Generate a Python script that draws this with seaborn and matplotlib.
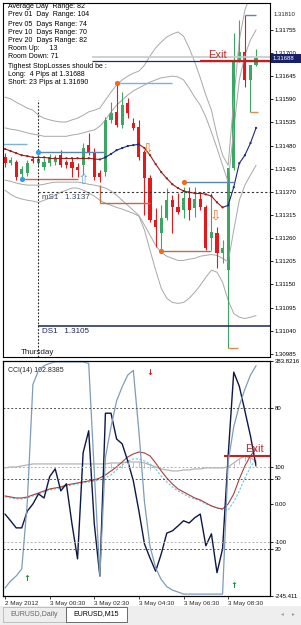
import numpy as np
import pandas as pd
import matplotlib
matplotlib.use("Agg")
import matplotlib.pyplot as plt
import seaborn as sns
from matplotlib.patches import Rectangle

sns.set_style("white")
plt.rcParams['font.family'] = ['Liberation Sans', 'DejaVu Sans']

# ---------------- data ----------------
time_ticks = [0, 8, 16, 24, 32, 40]
time_labels = ["2 May 2012", "3 May 00:30", "3 May 02:30", "3 May 04:30", "3 May 06:30", "3 May 08:30"]

opens = [1.31452, 1.31438, 1.31441, 1.31412, 1.31414, 1.31448, 1.31438, 1.31429, 1.31438, 1.31441,
         1.31457, 1.31441, 1.31441, 1.31429, 1.31433, 1.31481, 1.31464, 1.31414, 1.31417, 1.31541,
         1.31560, 1.31529, 1.31581, 1.31533, 1.31524, 1.31464, 1.31402, 1.31303, 1.31272, 1.31307,
         1.31350, 1.31335, 1.31326, 1.31355, 1.31331, 1.31353, 1.31335, 1.31260, 1.31272, 1.31224,
         1.31184, 1.31426, 1.31683, 1.31702, 1.31636, 1.31671]
highs = [1.31462, 1.31452, 1.31445, 1.31431, 1.31445, 1.31452, 1.31457, 1.31450, 1.31460, 1.31457,
         1.31469, 1.31445, 1.31450, 1.31438, 1.31486, 1.31510, 1.31474, 1.31422, 1.31548, 1.31583,
         1.31629, 1.31607, 1.31593, 1.31545, 1.31541, 1.31469, 1.31410, 1.31331, 1.31338, 1.31379,
         1.31362, 1.31367, 1.31381, 1.31381, 1.31381, 1.31369, 1.31338, 1.31367, 1.31286, 1.31255,
         1.31426, 1.31748, 1.31779, 1.31790, 1.31671, 1.31710]
lows = [1.31429, 1.31433, 1.31398, 1.31402, 1.31407, 1.31438, 1.31431, 1.31422, 1.31431, 1.31433,
        1.31429, 1.31426, 1.31405, 1.31405, 1.31410, 1.31457, 1.31398, 1.31393, 1.31407, 1.31533,
        1.31524, 1.31522, 1.31545, 1.31517, 1.31445, 1.31314, 1.31298, 1.31238, 1.31231, 1.31303,
        1.31272, 1.31317, 1.31307, 1.31303, 1.31310, 1.31326, 1.31231, 1.31231, 1.31188, 1.31200,
        1.30998, 1.31422, 1.31679, 1.31619, 1.31560, 1.31669]
closes = [1.31438, 1.31445, 1.31405, 1.31424, 1.31438, 1.31443, 1.31448, 1.31441, 1.31452, 1.31450,
          1.31433, 1.31433, 1.31426, 1.31422, 1.31474, 1.31464, 1.31405, 1.31405, 1.31541, 1.31557,
          1.31529, 1.31576, 1.31557, 1.31522, 1.31452, 1.31402, 1.31303, 1.31286, 1.31307, 1.31350,
          1.31335, 1.31322, 1.31355, 1.31326, 1.31353, 1.31335, 1.31236, 1.31274, 1.31224, 1.31236,
          1.31426, 1.31679, 1.31702, 1.31636, 1.31671, 1.31688]

ma_line = [1.31472, 1.31467, 1.31462, 1.31457, 1.31455, 1.31452, 1.31452, 1.31452, 1.31450, 1.31450,
           1.31450, 1.31450, 1.31450, 1.31450, 1.31450, 1.31450, 1.31448, 1.31447, 1.31452, 1.31460,
           1.31469, 1.31474, 1.31479, 1.31481, 1.31483, 1.31474, 1.31457, 1.31436, 1.31417, 1.31402,
           1.31388, 1.31379, 1.31372, 1.31369, 1.31367, 1.31367, 1.31364, 1.31360, 1.31345, 1.31333,
           1.31338, 1.31381, 1.31438, 1.31457, 1.31486, 1.31522]

band_up_outer = [1.31595, 1.31591, 1.31583, 1.31576, 1.31569, 1.31564, 1.31552, 1.31545, 1.31541, 1.31538,
                 1.31536, 1.31536, 1.31541, 1.31545, 1.31552, 1.31560, 1.31564, 1.31569, 1.31588, 1.31607,
                 1.31624, 1.31636, 1.31645, 1.31652, 1.31657, 1.31671, 1.31693, 1.31712, 1.31726, 1.31738,
                 1.31745, 1.31750, 1.31740, 1.31712, 1.31679, 1.31641, 1.31600, 1.31564, 1.31505, 1.31457,
                 1.31433, 1.31588, 1.31731, 1.31802, 1.31838, 1.31862]
band_up_inner = [1.31522, 1.31519, 1.31517, 1.31514, 1.31510, 1.31507, 1.31505, 1.31502, 1.31502, 1.31502,
                 1.31502, 1.31502, 1.31505, 1.31507, 1.31510, 1.31514, 1.31517, 1.31526, 1.31541, 1.31560,
                 1.31576, 1.31588, 1.31600, 1.31610, 1.31617, 1.31624, 1.31631, 1.31636, 1.31641, 1.31643,
                 1.31645, 1.31643, 1.31636, 1.31617, 1.31595, 1.31576, 1.31548, 1.31512, 1.31474, 1.31433,
                 1.31393, 1.31517, 1.31636, 1.31695, 1.31731, 1.31755]
band_lo_inner = [1.31398, 1.31395, 1.31391, 1.31388, 1.31386, 1.31386, 1.31386, 1.31388, 1.31391, 1.31393,
                 1.31393, 1.31393, 1.31393, 1.31393, 1.31391, 1.31388, 1.31386, 1.31383, 1.31379, 1.31372,
                 1.31362, 1.31350, 1.31338, 1.31326, 1.31314, 1.31291, 1.31267, 1.31243, 1.31226, 1.31217,
                 1.31212, 1.31207, 1.31207, 1.31210, 1.31212, 1.31217, 1.31219, 1.31221, 1.31219, 1.31212,
                 1.31203, 1.31279, 1.31350, 1.31386, 1.31410, 1.31433]
band_lo_outer = [1.31374, 1.31364, 1.31357, 1.31353, 1.31350, 1.31348, 1.31345, 1.31350, 1.31355, 1.31362,
                 1.31369, 1.31374, 1.31379, 1.31379, 1.31374, 1.31367, 1.31360, 1.31350, 1.31343, 1.31338,
                 1.31333, 1.31329, 1.31324, 1.31319, 1.31312, 1.31279, 1.31231, 1.31184, 1.31141, 1.31117,
                 1.31107, 1.31105, 1.31107, 1.31117, 1.31131, 1.31148, 1.31167, 1.31184, 1.31179, 1.31155,
                 1.31112, 1.31081, 1.31072, 1.31069, 1.31072, 1.31076]

cci = [-26, -44, -63, -63, -18, 1, 28, 17, 74, 95, 36, 55, -52, -146, 138, 197, -52, -192, 244, 244,
       175, 162, 116, 63, -18, -106, -144, -179, -133, -77, -71, -58, -44, -50, -36, -26, -111, -79, -183, -119,
       130, 354, 316, 250, 183, 102.8385]
cci_ma_red = [22.5, 19.8, 17.1, 17.1, 19.8, 25.2, 30.5, 35.9, 41.2, 43.9, 46.6, 51.9, 54.6, 57.3, 60.0, 62.7,
              65.3, 70.7, 78.7, 89.4, 100.1, 113.5, 126.9, 134.9, 140.3, 137.6, 129.6, 110.8, 89.4, 70.7,
              54.6, 41.2, 33.2, 25.2, 17.1, 11.8, 3.7, -4.3, -9.6, -12.3, 1.1, 28.0, 68.0, 103.0, 130.0, 148.0]
cci_ma_cyan = [19.8, 17.1, 14.5, 14.5, 17.1, 22.5, 27.8, 33.2, 38.6, 41.2, 43.9, 49.3, 51.9, 54.6, 57.3, 60.0,
               62.7, 65.3, 70.7, 78.7, 92.1, 105.5, 116.2, 121.6, 121.6, 116.2, 108.2, 94.8, 76.0, 60.0,
               46.6, 35.9, 27.8, 19.8, 14.5, 9.1, 1.1, -4.3, -9.6, -15.0, -15.0, 6.4, 35.9, 70.7, 100.1, 121.6]
cci_grey = [97.5, 100.1, 100.1, 102.8, 105.5, 108.2, 108.2, 108.2, 108.2, 108.2, 108.2, 108.2, 108.2, 108.2,
            108.2, 108.2, 108.2, 108.2, 108.2, 110.8, 110.8, 110.8, 113.5, 113.5, 113.5, 110.8, 105.5, 100.1,
            94.8, 92.1, 89.4, 89.4, 92.1, 92.1, 94.8, 94.8, 97.5, 97.5, 97.5, 97.5, 100.1, 110.8, 121.6,
            129.6, 124.2, 116.2]
stoch = [3.4, 6.4, 8.5, 11.5, 40, 90, 96, 98, 99, 99.6, 99.6, 99.6, 99.6, 99.6, 99.6, 99, 53, 8.5, 59, 72,
         83, 89, 94, 96, 70, 40, 21, 12, 7, 4, 2.5, 1.7, 0.8, 0.8, 0.8, 0.8, 0.8, 0.8, 0.8, 0.8,
         57, 72, 81, 88, 94, 98]

info_lines = ["Average Day  Range: 82", "Prev 01  Day  Range: 104", "Prev 05  Days Range: 74",
              "Prev 10  Days Range: 70", "Prev 20  Days Range: 82", "Room Up:     13", "Room Down: 71",
              "Tighest StopLosses should be :", "Long:  4 Pips at 1.31688", "Short: 23 Pips at 1.31690"]

price_ticks = [1.31755, 1.31700, 1.31645, 1.31590, 1.31535, 1.31480, 1.31425, 1.31370, 1.31315,
               1.31260, 1.31205, 1.31150, 1.31095, 1.31040, 1.30985]
cci_ticks = [383.8216, 100, 0, -100, -245.411]
cci_tick_labels = ["383.8216", "100", "0.00", "-100", "-245.411"]
stoch_levels = [80, 50, 20]

pivot_ms1 = 1.3137
pivot_ds1 = 1.3105
bid_price = 1.31688
exit_price = 1.31680
exit_cci = 129.6

# signal dots: (bar, price)
blue_dot_bars = [3, 6]
blue_dot_prices = [1.31400, 1.31464]
orange_dot_bars = [20, 28, 32]
orange_dot_prices = [1.31629, 1.31229, 1.31393]

# ---------------- figure ----------------
W, H = 301, 625
fig = plt.figure(figsize=(W / 100, H / 100), dpi=100)
fig.patch.set_facecolor('white')


def fbox(x0, y0, x1, y1):
    return [x0 / W, 1 - y1 / H, (x1 - x0) / W, (y1 - y0) / H]


def ftext(x, y, s, **kw):
    return fig.text(x / W, 1 - y / H, s, **kw)


# tab strip (behind everything)
fig.patches.append(Rectangle((0, 0), 1, 19 / H, transform=fig.transFigure, facecolor="#eeeeee",
                             edgecolor="none", zorder=-2))
fig.patches.append(Rectangle((3 / W, 1 - 622 / H), 63 / W, 15 / H, transform=fig.transFigure,
                             facecolor="#eeeeee", edgecolor="#aaaaaa", lw=0.5, zorder=-1))
fig.patches.append(Rectangle((66 / W, 1 - 622 / H), 61 / W, 15 / H, transform=fig.transFigure,
                             facecolor="white", edgecolor="#555555", lw=0.6, zorder=-1))

ax1 = fig.add_axes(fbox(3, 3, 270, 357))
ax2 = fig.add_axes(fbox(3, 361, 270, 596))
ax2b = ax2.twinx()

n = len(opens)
bars = np.arange(n)
XL = (-0.36, 47.5)
GREEN = "#3aa862"
RED = "#e3191c"
NAVY = "#1a2a78"
DKRED = "#9c1c1c"
BAND = "#a8a8a8"

# bands (seaborn)
band_df = pd.concat([
    pd.DataFrame({"bar": bars, "price": v, "band": name})
    for name, v in [("uo", band_up_outer), ("ui", band_up_inner), ("li", band_lo_inner), ("lo", band_lo_outer)]
])
sns.lineplot(data=band_df, x="bar", y="price", units="band", estimator=None, color=BAND,
             lw=0.7, ax=ax1, legend=False)

# candles
o = np.array(opens); c = np.array(closes); hi = np.array(highs); lo = np.array(lows)
up = c >= o
cols = np.where(up, GREEN, RED)
ax1.vlines(bars, lo, hi, colors=cols, lw=0.8)
body_lo = np.minimum(o, c)
body_h = np.maximum(np.abs(c - o), 0.00003)
ax1.bar(bars, body_h, bottom=body_lo, width=0.56, color=cols, edgecolor='none')

# MA line colored by direction
ma = np.array(ma_line)
for i in range(n - 1):
    col = NAVY if ma[i + 1] > ma[i] else DKRED
    ax1.plot([i, i + 1], [ma[i], ma[i + 1]], color=col, lw=0.8)
dot_cols = [NAVY if (i > 0 and ma[i] > ma[i - 1]) else DKRED for i in range(n)]
ax1.scatter(bars, ma, s=2.5, c=dot_cols, zorder=4, linewidths=0)

# horizontal levels
ax1.hlines(1.31483, -0.4, 4, color="#7fb2d8", lw=1.0)
ax1.hlines(blue_dot_prices[1], 6, 18, color="#5a88b0", lw=1.0)
ax1.hlines(blue_dot_prices[0], 3, 13, color="#b8704a", lw=1.0)
ax1.vlines(17, 1.31343, 1.31386, color="#b8704a", lw=1.0)
ax1.hlines(1.31343, 17, 26, color="#b8704a", lw=1.0)
ax1.hlines(orange_dot_prices[0], 20, 30, color="#7fb2d8", lw=1.0)
ax1.hlines(orange_dot_prices[2], 32, 41, color="#5a88b0", lw=1.0)
ax1.hlines(orange_dot_prices[1], 28, 37, color="#b8704a", lw=1.0)
ax1.hlines(1.31790, 43, 45, color="#5a88b0", lw=1.0)
ax1.hlines(1.31560, 44, 45.3, color="#e08a50", lw=1.0)
ax1.hlines(1.30998, 40, 41.7, color="#e08a50", lw=1.0)
ax1.scatter(blue_dot_bars, blue_dot_prices, s=14, color="#3a9be8", zorder=5, linewidths=0)
ax1.scatter(orange_dot_bars, orange_dot_prices, s=14, color="#f06a1e", zorder=5, linewidths=0)

# bid / lines
ax1.hlines(1.31691, 15.6, XL[1], color="#c8c8c8", lw=1.2)
ax1.hlines(exit_price, 15.6, XL[1], color=NAVY, lw=0.9)
ax1.hlines(exit_price, 35, XL[1], color="#c81e1e", lw=1.6, zorder=3)
ax1.text(36.4, exit_price + 0.00003, "Exit", color="#c02828", fontsize=8, ha="left", va="bottom")

# pivots and separator
ax1.hlines(pivot_ms1, 6, XL[1], color="#333333", lw=0.8, linestyles=(0, (2, 2)))
ax1.hlines(pivot_ds1, 6, XL[1], color="#1c2456", lw=1.1)
ax1.text(6.6, pivot_ms1 - 0.00004, "mS1   1.3137", color="#3c4a66", fontsize=5.8, va="top", ha="left")
ax1.text(6.6, pivot_ds1 - 0.00004, "DS1   1.3105", color="#1c2456", fontsize=5.8, va="top", ha="left")
ax1.vlines(6, 1.30978, 1.31588, color="#222222", lw=0.8, linestyles=(0, (1.5, 1.5)))

# hollow arrows
ax1.text(14, 1.31398, "\u21e7", color="#6fa8dc", fontsize=10, ha="center", va="center", family="DejaVu Sans")
ax1.text(25.6, 1.31474, "\u21e9", color="#e07a3a", fontsize=10, ha="center", va="center", family="DejaVu Sans")
ax1.text(37.8, 1.31314, "\u21e9", color="#e07a3a", fontsize=10, ha="center", va="center", family="DejaVu Sans")

ax1.set_xlim(*XL)
ax1.set_ylim(1.309775, 1.318188)
ax1.yaxis.tick_right()
ax1.set_yticks(price_ticks)
ax1.set_yticklabels([f"{p:.5f}" for p in price_ticks])
ax1.tick_params(axis='y', labelsize=4.3, length=2, pad=1.5, width=0.6, colors="black")
ax1.set_xticks([])
ax1.set_xlabel(""); ax1.set_ylabel("")
for s in ax1.spines.values():
    s.set_color("black"); s.set_linewidth(0.8)

# ---------------- lower panel ----------------
lower_df = pd.DataFrame({"bar": bars, "cci": cci, "red": cci_ma_red, "cyan": cci_ma_cyan,
                         "grey": cci_grey, "stoch": stoch})
sns.lineplot(data=lower_df, x="bar", y="grey", color="#b4b4b4", lw=0.9, ax=ax2, legend=False)
sns.lineplot(data=lower_df, x="bar", y="cyan", color="#6cc4dc", lw=0.8, ax=ax2, legend=False,
             linestyle=(0, (2, 1.5)))
sns.lineplot(data=lower_df, x="bar", y="red", color="#a8403c", lw=0.8, ax=ax2, legend=False)
sns.lineplot(data=lower_df, x="bar", y="cci", color="#0d1846", lw=1.0, ax=ax2, legend=False)
sns.lineplot(data=lower_df, x="bar", y="stoch", color="#7f9cb8", lw=0.9, ax=ax2b, legend=False)

# small histogram ticks under grey line
for i in list(range(19, 27)) + list(range(41, 46)):
    ax2.vlines(i, cci_grey[i] - 14, cci_grey[i], color="#b4b4b4", lw=0.6)

ax2.axhline(100, color="#b0b0b0", lw=0.7, ls=(0, (2, 2)))
ax2.axhline(-100, color="#b0b0b0", lw=0.7, ls=(0, (2, 2)))
for lv in stoch_levels:
    ax2b.axhline(lv, color="#555555", lw=0.7, ls=(0, (2, 2)))

ax2.hlines(exit_cci, 39.3, XL[1], color="#c81e1e", lw=1.5, zorder=5)
ax2.text(43.0, exit_cci + 4, "Exit", color="#c02828", fontsize=8, ha="left", va="bottom", zorder=6)

ax2.text(26, 352, "\u2193", color="#d02020", fontsize=6, fontweight="bold", ha="center", va="center",
         family="DejaVu Sans")
ax2.text(4, -199, "\u2191", color="#1e8a3c", fontsize=6, fontweight="bold", ha="center", va="center",
         family="DejaVu Sans")
ax2.text(41, -218, "\u2191", color="#1e8a3c", fontsize=6, fontweight="bold", ha="center", va="center",
         family="DejaVu Sans")

ax2.set_xlim(*XL)
ax2.set_ylim(-245.411, 383.8216)
ax2b.set_ylim(0, 100)
ax2.yaxis.tick_right()
ax2.set_yticks(cci_ticks)
ax2.set_yticklabels(cci_tick_labels)
ax2b.set_yticks(stoch_levels)
ax2b.set_yticklabels([str(v) for v in stoch_levels])
for a in (ax2, ax2b):
    a.tick_params(axis='y', labelsize=4.3, length=2, pad=1.5, width=0.6, colors="black")
    a.set_ylabel("")
ax2.set_xticks(time_ticks)
ax2.set_xticklabels(time_labels)
for lab in ax2.get_xticklabels():
    lab.set_horizontalalignment("left")
ax2.tick_params(axis='x', labelsize=4.6, length=2.5, pad=0.8, width=0.6, direction="out", bottom=True)
ax2.set_xlabel("")
for a in (ax2, ax2b):
    for s in a.spines.values():
        s.set_color("black"); s.set_linewidth(0.8)
ax2.text(0.02, 0.975, "CCI(14) 102.8385", transform=ax2.transAxes, fontsize=5, va="top", ha="left")

# ---------------- texts & chrome ----------------
ys = [6, 15, 24, 32, 41, 49, 57, 66, 74, 82]
for yy, s in zip(ys, info_lines):
    ftext(8, yy, s, fontsize=5, va="center", ha="left", color="black")
ftext(21, 353, "Thursday", fontsize=5.8, va="center", ha="left", color="#222222")
ftext(274, 15, "1.31810", fontsize=4.3, va="center", ha="left")

fig.patches.append(Rectangle((271 / W, 1 - 63 / H), 30 / W, 9 / H, transform=fig.transFigure,
                             facecolor="#18206a", edgecolor="none"))
ftext(273, 58.5, "1.31688", fontsize=4.3, va="center", ha="left", color="white")

ftext(10, 614, "EURUSD,Daily", fontsize=5, va="center", ha="left", color="#666666")
ftext(73, 614, "EURUSD,M15", fontsize=5, va="center", ha="left", color="black")
ftext(282, 614, "\u25c2", fontsize=4, va="center", ha="center", color="#999999", family="DejaVu Sans")
ftext(293, 614, "\u25b8", fontsize=4, va="center", ha="center", color="#999999", family="DejaVu Sans")

fig.savefig("out.png", dpi=100)
